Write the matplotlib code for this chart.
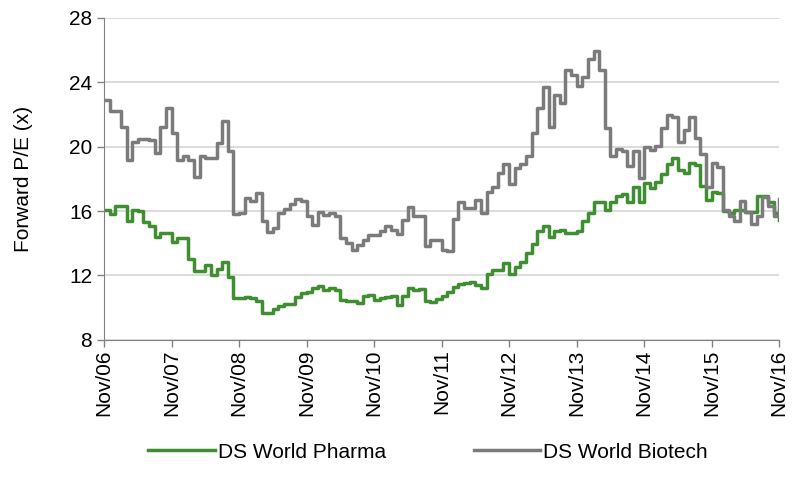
import matplotlib
matplotlib.use("Agg")
import matplotlib.pyplot as plt
import numpy as np

plt.rcParams['font.family'] = ['Liberation Sans', 'DejaVu Sans']

# monthly forward P/E, Nov 2006 .. Nov 2016
pharma = [16.07, 15.8, 16.3, 16.3, 15.4, 16.07, 16.0, 15.3, 15.1, 14.4,
          14.65, 14.65, 14.1, 14.3, 14.3, 13.0, 12.3, 12.3, 12.65, 12.0,
          12.4, 12.86, 11.9, 10.6, 10.6, 10.65, 10.6, 10.4, 9.66, 9.66,
          9.9, 10.07, 10.24, 10.24, 10.69, 10.9, 11.0, 11.21, 11.35, 11.1,
          11.21, 11.1, 10.48, 10.38, 10.38, 10.28, 10.73, 10.8, 10.48, 10.59,
          10.65, 10.73, 10.17, 10.7, 11.2, 11.07, 11.15, 10.38, 10.32, 10.55,
          10.73, 11.0, 11.27, 11.48, 11.55, 11.6, 11.4, 11.2, 12.1, 12.35,
          12.35, 12.76, 12.1, 12.51, 12.86, 13.38, 13.96, 14.73, 15.04, 14.38,
          14.73, 14.8, 14.62, 14.62, 14.73, 15.35, 15.87, 16.59, 16.59, 16.07,
          16.59, 16.94, 17.07, 16.53, 17.52, 16.53, 17.77, 17.42, 17.83, 18.31,
          18.93, 19.29, 18.56, 18.39, 18.97, 18.87, 17.56, 16.7, 17.21, 17.1,
          16.03, 15.87, 16.07, 16.07, 15.97, 15.97, 16.94, 16.94, 16.59, 15.87,
          15.42]

biotech = [22.9, 22.2, 22.2, 21.2, 19.2, 20.3, 20.5, 20.5, 20.4, 19.6,
           21.25, 22.4, 20.85, 19.2, 19.4, 19.2, 18.1, 19.4, 19.3, 19.3,
           20.2, 21.6, 19.7, 15.8, 15.9, 16.8, 16.6, 17.1, 15.35, 14.7,
           14.93, 15.87, 16.1, 16.45, 16.74, 16.6, 15.66, 15.14, 15.97, 15.76,
           15.87, 15.66, 14.3, 14.0, 13.55, 13.9, 14.2, 14.52, 14.52, 14.73,
           15.04, 14.8, 14.6, 15.45, 16.24, 15.66, 15.66, 13.8, 14.2, 14.2,
           13.6, 13.5, 15.5, 16.59, 16.18, 16.18, 16.7, 15.9, 17.21, 17.52,
           18.39, 18.93, 17.69, 18.66, 18.93, 19.39, 20.84, 22.39, 23.7, 21.25,
           23.22, 22.7, 24.77, 24.46, 23.78, 24.32, 25.43, 25.97, 24.77, 21.15,
           19.43, 19.84, 19.7, 18.8, 19.7, 18.04, 19.97, 19.8, 20.05, 21.15,
           21.98, 21.87, 20.26, 21.04, 21.87, 20.53, 19.55, 17.52, 18.97, 18.76,
           16.07, 15.7, 15.35, 16.65, 15.97, 15.2, 15.66, 16.86, 16.32, 15.66,
           16.74]

tick_labels = ['Nov/06', 'Nov/07', 'Nov/08', 'Nov/09', 'Nov/10', 'Nov/11',
               'Nov/12', 'Nov/13', 'Nov/14', 'Nov/15', 'Nov/16']

months = np.arange(len(pharma))

fig = plt.figure(figsize=(8, 4.82), dpi=100)
ax = fig.add_axes([0.13, 0.295, 0.844, 0.668])

ax.plot(months, pharma, drawstyle='steps-post', color='#3f8f32', lw=2.5,
        label='DS World Pharma')
ax.plot(months, biotech, drawstyle='steps-post', color='#7b7b7b', lw=2.5,
        label='DS World Biotech')

ax.set_xlim(0, 120)
ax.set_ylim(8, 28)
ax.set_yticks([8, 12, 16, 20, 24, 28])
ax.set_xticks(np.arange(0, 121, 12))
ax.set_xticklabels(tick_labels, rotation=90)
ax.tick_params(axis='both', labelsize=15, direction='out', length=5,
               color='#808080', width=1)
ax.tick_params(axis='x', pad=2)
ax.set_ylabel('Forward P/E (x)', fontsize=15, labelpad=26)

ax.grid(axis='y', color='#d9d9d9', lw=1.3)
ax.set_axisbelow(True)
for s in ['top', 'right']:
    ax.spines[s].set_visible(False)
ax.spines['left'].set_color('#808080')
ax.spines['bottom'].set_color('#808080')

fig.legend(loc='center', bbox_to_anchor=(0.535, 1 - 452 / 482), ncol=2,
           frameon=False, fontsize=15, handlelength=3.2, handletextpad=0.15,
           columnspacing=4.2)

fig.savefig('out.png', dpi=100)
